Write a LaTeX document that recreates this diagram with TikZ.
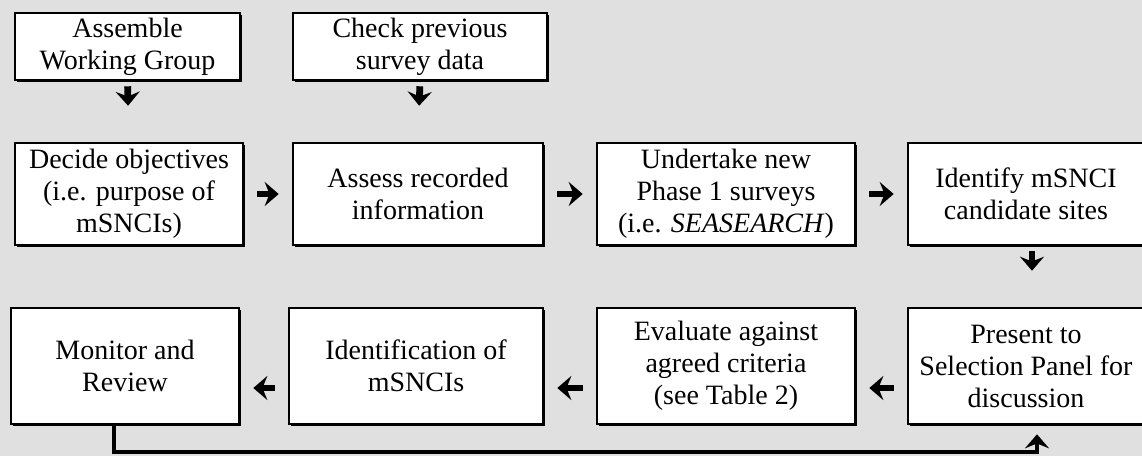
\documentclass[tikz,border=0pt]{standalone}
\usepackage{fontspec}
\setmainfont{Liberation Serif}
\usepackage{tikz}
\usetikzlibrary{arrows.meta}
\usetikzlibrary{shadows}
\tikzset{
stage/.style={rectangle, draw, fill=white, line width=1.3pt, align=center, inner sep=2pt,
  font=\fontsize{14}{16}\selectfont,
  drop shadow={shadow xshift=0.8pt, shadow yshift=-0.8pt, fill=black, opacity=1}},
flow/.style={line width=3.4pt, -{Stealth[length=7pt, width=12pt, inset=2.4pt]}, shorten <=6.5pt, shorten >=6.5pt},
down/.style={flow, shorten <=2.5pt, shorten >=18pt},
feedback/.style={line width=2.4pt, -{Stealth[length=7pt, width=12pt, inset=2.4pt]}, shorten >=4.5pt}
}

\begin{document}
\begin{tikzpicture}[x=0.5pt, y=-0.5pt]
\fill[black!12] (0,0) rectangle (1142,456);
\useasboundingbox (0,0) rectangle (1142,456);
\clip (0,0) rectangle (1142,456);

% top row
\node [stage, minimum width=112.5pt, minimum height=33.5pt] (AWG) at (127.5,46.5) {Assemble\\Working Group};
\node [stage, minimum width=127pt, minimum height=33.5pt] (CPS) at (420,46.5) {Check previous\\survey data};

% middle row
\node [stage, minimum width=114pt, minimum height=51pt] (DO) at (129,194) {Decide objectives\\(i.e. purpose of\\mSNCIs)};
\node [stage, minimum width=125pt, minimum height=51pt] (ARI) at (418,194) {Assess recorded\\information};
\node [stage, minimum width=129pt, minimum height=51pt] (UNP) at (726,194) {Undertake new\\Phase 1 surveys\\(i.e. \textit{SEASEARCH})};
\node [stage, minimum width=118pt, minimum height=51pt] (IMC) at (1026,194) {Identify mSNCI\\candidate sites};

% bottom row
\node [stage, minimum width=114pt, minimum height=58pt] (MR) at (125,366) {Monitor and\\Review};
\node [stage, minimum width=127pt, minimum height=58pt] (IDM) at (416,366) {Identification of\\mSNCIs};
\node [stage, minimum width=129pt, minimum height=58pt] (EAC) at (726,366) {Evaluate against\\agreed criteria\\(see Table 2)};
\node [stage, minimum width=118pt, minimum height=58pt] (PSP) at (1026,366) {Present to\\Selection Panel for\\discussion};

\coordinate (loop) at (600,452);

\draw [down] (AWG.south) -- (DO.north);
\draw [down] (CPS.south) -- (ARI.north);
\draw [flow] (DO.east) -- (ARI.west);
\draw [flow] (ARI.east) -- (UNP.west);
\draw [flow] (UNP.east) -- (IMC.west);
\draw [down] ([xshift=3pt]IMC.south) -- ([xshift=3pt]PSP.north);
\draw [flow] ([yshift=-11pt]PSP.west) -- ([yshift=-11pt]EAC.east);
\draw [flow] ([yshift=-11pt]EAC.west) -- ([yshift=-11pt]IDM.east);
\draw [flow] ([yshift=-11pt]IDM.west) -- ([yshift=-11pt]MR.east);
\draw [feedback] ([xshift=-5.5pt]MR.south) |- (loop) -| ([xshift=5.5pt]PSP.south);
\end{tikzpicture}
\end{document}
